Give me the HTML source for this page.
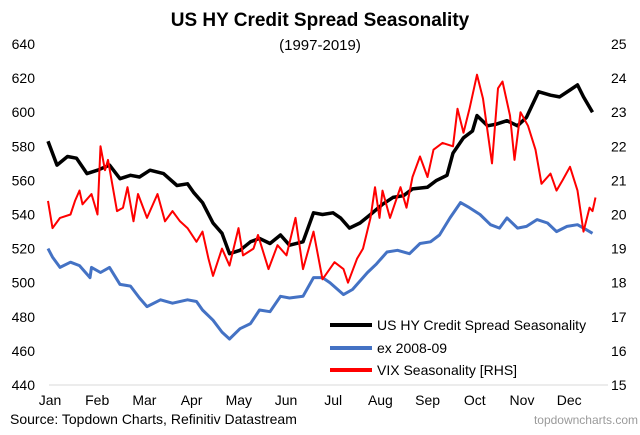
<!DOCTYPE html>
<html><head><meta charset="utf-8"><style>
body{margin:0;background:#fff;font-family:"Liberation Sans",Arial,sans-serif}
svg{display:block}
</style></head><body>
<svg id="c" width="640" height="435" xmlns="http://www.w3.org/2000/svg">
<text x="320" y="26" text-anchor="middle" font-size="19" font-weight="bold">US HY Credit Spread Seasonality</text>
<text x="320" y="50" text-anchor="middle" font-size="15">(1997-2019)</text>
<line x1="49" y1="385" x2="608" y2="385" stroke="#d9d9d9" stroke-width="1"/>
<g id="yl"></g>
<g id="yr"></g>
<g id="xl"></g>
<g id="series"></g>
<g>
<line x1="330" y1="325" x2="372" y2="325" stroke="#000" stroke-width="4"/>
<text x="377" y="330" font-size="14">US HY Credit Spread Seasonality</text>
<line x1="330" y1="348" x2="372" y2="348" stroke="#4472c4" stroke-width="4"/>
<text x="377" y="353" font-size="14">ex 2008-09</text>
<line x1="330" y1="370" x2="372" y2="370" stroke="#ff0000" stroke-width="4"/>
<text x="377" y="375" font-size="14">VIX Seasonality [RHS]</text>
</g>
<text x="10" y="424" font-size="14">Source: Topdown Charts, Refinitiv Datastream</text>
<text x="638" y="424" text-anchor="end" font-size="12" fill="#9a9a9a">topdowncharts.com</text>
</svg>
<script>
const months=["Jan","Feb","Mar","Apr","May","Jun","Jul","Aug","Sep","Oct","Nov","Dec"];
const leftTicks=[440,460,480,500,520,540,560,580,600,620,640];
const rightTicks=[15,16,17,18,19,20,21,22,23,24,25];
const hyDays=[0,6,13,19,26,33,41,48,55,61,68,77,86,93,97,103,110,116,121,128,135,141,148,155,161,170,177,183,190,195,201,208,215,223,230,237,243,253,259,266,270,277,283,286,293,299,306,313,319,327,335,341,348,353,357,363];
const hyVals=[583,569,574,573,564,566,569,561,563,562,566,564,557,558,553,547,535,529,517,519,524,526,523,528,522,524,541,540,541,538,532,535,540,546,550,551,555,556,560,563,576,585,589,598,592,593,595,592,597,612,610,609,613,616,609,600];
const exDays=[0,3,8,15,21,28,29,35,41,48,55,61,66,75,83,93,99,103,110,116,121,128,135,141,148,155,161,170,177,183,188,197,203,213,219,226,233,241,248,255,261,268,275,281,288,295,301,306,313,319,326,333,339,346,353,359,363];
const exVals=[520,515,509,512,510,503,509,506,509,499,498,491,486,490,488,490,489,484,478,471,467,473,476,484,483,492,491,492,503,503,500,493,496,506,511,518,519,517,523,524,528,538,547,544,540,534,532,538,532,533,537,535,530,533,534,531,529];
const vixDays=[0,3,8,15,18,21,23,29,33,35,38,40,46,50,53,57,60,66,73,78,83,88,93,99,103,107,110,116,121,127,130,137,140,147,153,159,165,170,177,183,191,197,200,206,210,215,218,221,223,228,235,239,243,248,253,257,263,270,273,277,281,286,290,296,300,303,308,311,315,320,325,329,335,339,343,348,353,357,361,363,365];
const vixVals=[20.4,19.6,19.9,20.0,20.4,20.7,20.3,20.6,20.0,22.0,21.3,21.6,20.1,20.2,20.8,19.8,20.6,19.9,20.6,19.8,20.1,19.8,19.6,19.2,19.5,18.7,18.2,19.0,18.5,19.6,18.8,19.0,19.4,18.4,19.1,18.8,19.9,18.4,19.5,18.1,18.6,18.4,18.0,18.7,19.0,19.9,20.8,19.9,20.7,19.9,20.8,20.2,21.1,21.7,21.1,21.9,22.1,22.0,23.1,22.4,23.1,24.1,23.4,21.5,23.7,23.9,22.9,21.6,23.0,22.6,21.9,20.9,21.2,20.7,21.0,21.4,20.7,19.5,20.2,20.1,20.5];
const NS="http://www.w3.org/2000/svg";
const xS=d=>48+d*1.5;
const yL=v=>44+(640-v)*341/200;
const yR=v=>44+(25-v)*34.1;
function mk(tag,attrs,parent,text){const e=document.createElementNS(NS,tag);for(const k in attrs)e.setAttribute(k,attrs[k]);if(text!==undefined)e.textContent=text;parent.appendChild(e);return e;}
const yl=document.getElementById('yl'),yr=document.getElementById('yr'),xl=document.getElementById('xl'),sg=document.getElementById('series');
leftTicks.forEach(v=>{const t=mk('text',{x:35,y:yL(v)+5,'text-anchor':'end','font-size':14},yl,String(v));

});
rightTicks.forEach(v=>{const t=mk('text',{x:611,y:yR(v)+5,'font-size':14},yr,String(v));

});
months.forEach((m,i)=>{const t=mk('text',{x:50+i*47.2,y:405,'text-anchor':'middle','font-size':14},xl,m);

});
function line(days,vals,ys,color,w,name){const d=days.map((x,i)=>(i?'L':'M')+xS(x).toFixed(1)+','+ys(vals[i]).toFixed(1)).join('');
const p=mk('path',{d:d,fill:'none',stroke:color,'stroke-width':w,'stroke-linejoin':'round'},sg);

}
line(exDays,exVals,yL,'#4472c4',3,'ex-2008-09-line');
line(hyDays,hyVals,yL,'#000',3.5,'hy-spread-line');
line(vixDays,vixVals,yR,'#ff0000',2,'vix-line');
</script>
</body></html>
